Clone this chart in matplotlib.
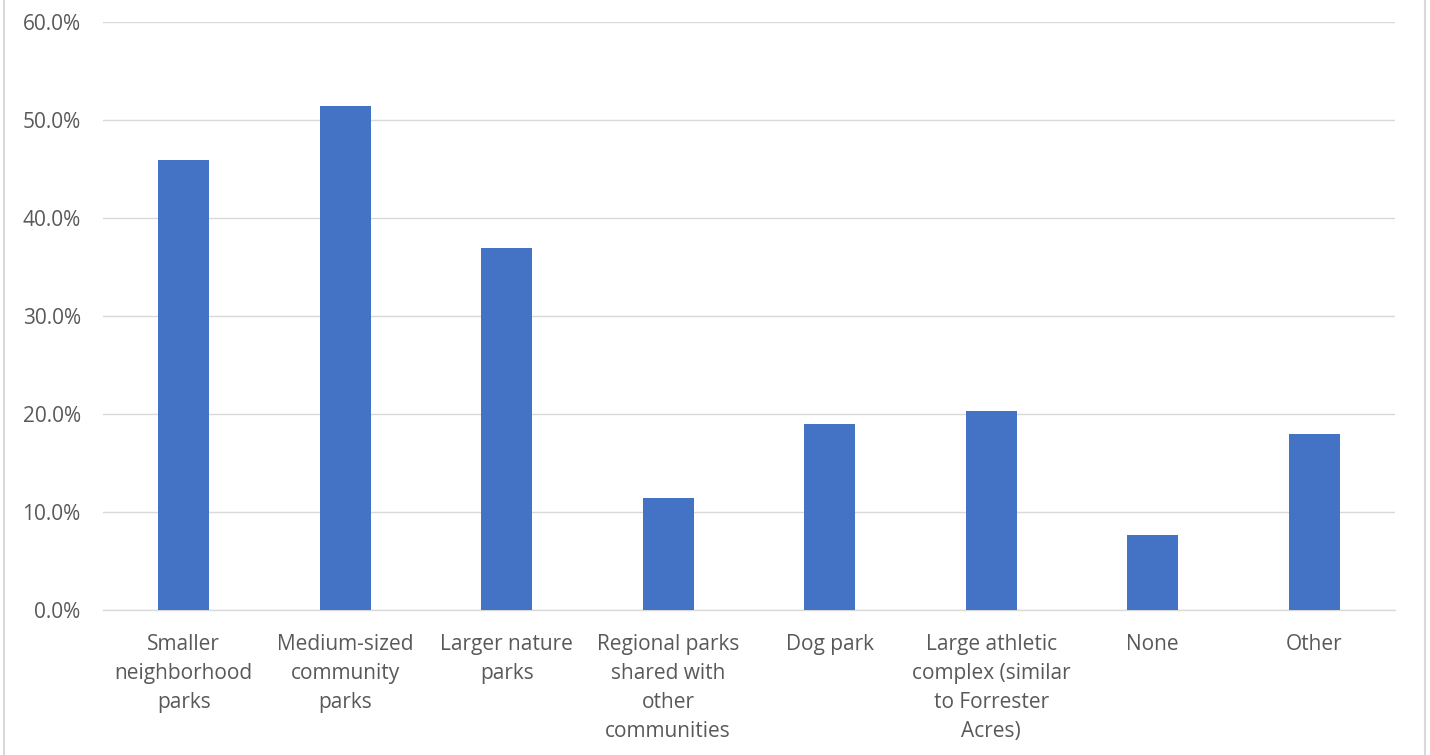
import numpy as np
import matplotlib.pyplot as plt
from matplotlib.lines import Line2D
from matplotlib.ticker import FuncFormatter

categories = [
    'Smaller\nneighborhood\nparks',
    'Medium-sized\ncommunity\nparks',
    'Larger nature\nparks',
    'Regional parks\nshared with\nother\ncommunities',
    'Dog park',
    'Large athletic\ncomplex (similar\nto Forrester\nAcres)',
    'None',
    'Other',
]
values = [45.9, 51.4, 36.9, 11.4, 19.0, 20.3, 7.7, 18.0]
y_ticks = [0, 10, 20, 30, 40, 50, 60]

plt.rcParams['font.family'] = ['Open Sans', 'DejaVu Sans']

fig = plt.figure(figsize=(14.3, 7.55), dpi=100)
ax = fig.add_axes([0.072, 0.192, 0.9035, 0.7789])

x = np.arange(len(categories))
ax.bar(x, values, width=0.316, color='#4472C4', zorder=3)

ax.set_xlim(-0.5, len(categories) - 0.5)
ax.set_ylim(0, 60)
ax.set_yticks(y_ticks)
ax.yaxis.set_major_formatter(FuncFormatter(lambda v, p: '%.1f%%' % v))
ax.grid(axis='y', color='#d9d9d9', linewidth=1.0, zorder=0)

ax.set_xticks(x)
ax.set_xticklabels(categories, fontsize=15, color='#595959', linespacing=1.5, va='top')
ax.tick_params(axis='y', labelsize=15, labelcolor='#595959', length=0, pad=16)
ax.tick_params(axis='x', length=0, pad=17)

for s in ['top', 'right', 'left']:
    ax.spines[s].set_visible(False)
ax.spines['bottom'].set_color('#d9d9d9')
ax.spines['bottom'].set_linewidth(1.0)

# outer chart border (left and right edges)
fig.add_artist(Line2D([4 / 1430, 4 / 1430], [0, 1], color='#d9d9d9', linewidth=1.5, transform=fig.transFigure))
fig.add_artist(Line2D([1425 / 1430, 1425 / 1430], [0, 1], color='#d9d9d9', linewidth=1.5, transform=fig.transFigure))

fig.savefig('out.png', dpi=100)
